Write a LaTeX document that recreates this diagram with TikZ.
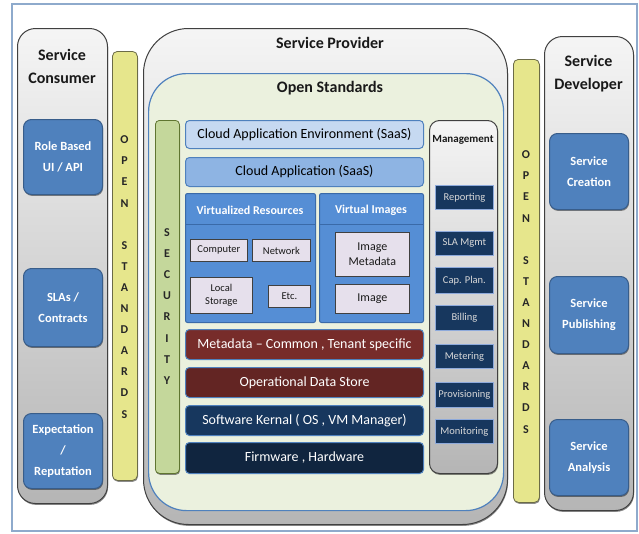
\documentclass[tikz,border=0pt]{standalone}
\usepackage{fontspec}
\setmainfont{Carlito}
\usetikzlibrary{shadows}
\definecolor{framec}{HTML}{8EAACC}
\definecolor{grayline}{HTML}{404040}
\definecolor{bluefill}{HTML}{4F81BD}
\definecolor{blueline}{HTML}{385D8A}
\definecolor{yfill}{HTML}{E6E68C}
\definecolor{yline}{HTML}{6B6B47}
\definecolor{secfill}{HTML}{C4D79B}
\definecolor{secline}{HTML}{5F7530}
\definecolor{osfill}{HTML}{EBF1DE}
\definecolor{caefill}{HTML}{C6D9F1}
\definecolor{cafill}{HTML}{8EB4E3}
\definecolor{vrfill}{HTML}{558ED5}
\definecolor{vrline}{HTML}{3A6AA8}
\definecolor{lavfill}{HTML}{E6E0EC}
\definecolor{mdfill}{HTML}{772C2A}
\definecolor{odsfill}{HTML}{632523}
\definecolor{skfill}{HTML}{17375E}
\definecolor{fwfill}{HTML}{10253F}
\definecolor{mitemline}{HTML}{8EAADB}
\newcommand\bx[7]{\node[#1, anchor=north west, inner sep=0pt, minimum width={#5pt-#3pt}, minimum height={#6pt-#4pt}] (#2) at (#3,#4) {#7};}
\tikzset{
  softshadow/.style={drop shadow={shadow xshift=0.6pt, shadow yshift=-1.4pt, opacity=0.45, fill=black}},
  graybox/.style={draw=grayline, line width=1pt, top color=gray!8, bottom color=gray!58, softshadow},
  bluebox/.style={draw=blueline, line width=1pt, fill=bluefill, rounded corners=8pt, text=white, align=center, font=\bfseries\fontsize{12.5}{21}\selectfont, softshadow},
  ybar/.style={draw=yline, line width=0.8pt, fill=yfill, rounded corners=5pt, softshadow},
  vlet/.style={align=center, text=black!85, inner sep=0pt, font=\bfseries\fontsize{12}{21.1}\selectfont},
  ttl/.style={align=center, text=black!90, inner sep=0pt, font=\bfseries\fontsize{16}{23}\selectfont},
  layer/.style={draw=bluefill, line width=1pt, rounded corners=4pt, font=\fontsize{14}{16}\selectfont},
  lav/.style={draw=black!75, line width=0.8pt, fill=lavfill, align=center, text=black!90, font=\fontsize{10.5}{13}\selectfont},
  mitem/.style={draw=mitemline, line width=0.8pt, fill=skfill, text=white!85!black, font=\fontsize{10.5}{12}\selectfont},
}
\begin{document}
\begin{tikzpicture}[x=1pt,y=-1pt]
\useasboundingbox (0,0) rectangle (639,533);
\fill[white] (0,0) rectangle (639,533);
\draw[framec, line width=1.5pt] (12,4) rectangle (637,531);

% Service consumer
\bx{graybox, rounded corners=18pt}{consumer}{17}{28}{107}{503}{}
\node[ttl] (consumerT) at (62,66) {Service\\Consumer};
\bx{bluebox}{roleb}{23}{119}{102}{194}{Role Based\\UI / API}
\bx{bluebox}{slas}{23}{268}{102}{346}{SLAs /\\Contracts}
\bx{bluebox}{expect}{23}{413}{102}{488}{Expectation\\/\\Reputation}

% left open standards
\bx{ybar}{osleft}{112}{51}{137}{480}{}
\node[vlet] (osleftT) at (124.5,277) {O\\P\\E\\N\\~\\S\\T\\A\\N\\D\\A\\R\\D\\S};

% Service provider
\bx{graybox, rounded corners=45pt}{provider}{143}{28}{507}{524}{}
\node[ttl] (providerT) at (330,43) {Service Provider};
\bx{draw=bluefill, line width=1.2pt, fill=osfill, rounded corners=38pt}{openstd}{148}{73}{503}{510}{}
\node[ttl] (openstdT) at (330,88) {Open Standards};

% security
\bx{draw=secline, line width=0.8pt, fill=secfill, rounded corners=4pt, softshadow}{security}{155}{120}{179}{473}{}
\node[vlet] (securityT) at (167,306.5) {S\\E\\C\\U\\R\\I\\T\\Y};

% layers
\bx{layer, fill=caefill}{cae}{185}{120}{423}{148}{Cloud Application Environment (SaaS)}
\bx{layer, fill=cafill}{ca}{185}{157}{423}{186}{Cloud Application (SaaS)}
\bx{draw=vrline, line width=1pt, fill=vrfill, rounded corners=2pt}{virtres}{185}{193}{315}{322}{}
\bx{draw=vrline, line width=1pt, fill=vrfill, rounded corners=2pt}{virtimg}{319}{193}{423}{322}{}
\draw[vrline, line width=1pt] (virtres.north west |- 0,224) -- (virtres.north east |- 0,224);
\draw[vrline, line width=1pt] (virtimg.north west |- 0,224) -- (virtimg.north east |- 0,224);
\node[text=white, font=\bfseries\fontsize{12}{14}\selectfont] (virtresT) at (250,210) {Virtualized Resources};
\node[text=white, font=\bfseries\fontsize{12}{14}\selectfont] (virtimgT) at (371,210) {Virtual Images};
\bx{lav}{computer}{190}{239}{247}{261}{Computer}
\bx{lav}{network}{252}{239}{310}{261}{Network}
\bx{lav}{localst}{190}{277}{252}{313}{Local\\Storage}
\bx{lav}{etc}{268}{285}{310}{307}{Etc.}
\bx{lav, font=\fontsize{12}{15}\selectfont}{imgmeta}{335}{232}{409}{276}{Image\\Metadata}
\bx{lav, font=\fontsize{12}{15}\selectfont}{image}{335}{284}{409}{313}{Image}

\bx{layer, fill=mdfill, text=white}{metadata}{185}{329}{423}{359}{Metadata -- Common , Tenant specific}
\bx{layer, fill=odsfill, text=white}{ods}{185}{367}{423}{397}{Operational Data Store}
\bx{layer, fill=skfill, text=white}{kernel}{185}{405}{423}{435}{Software Kernal ( OS , VM Manager)}
\bx{layer, fill=fwfill, text=white}{firmware}{185}{442}{423}{473}{Firmware , Hardware}

% management
\bx{graybox, rounded corners=10pt}{mgmt}{429}{120}{497}{473}{}
\node[inner sep=0pt, text=black!90, font=\bfseries\fontsize{11}{13}\selectfont] (mgmtT) at (463,140) {Management};
\bx{mitem}{reporting}{435}{185}{493}{209}{Reporting}
\bx{mitem}{slamgmt}{435}{231}{493}{255}{SLA Mgmt}
\bx{mitem}{capplan}{435}{267}{493}{293}{Cap. Plan.}
\bx{mitem}{billing}{435}{305}{493}{330}{Billing}
\bx{mitem}{metering}{435}{344}{493}{368}{Metering}
\bx{mitem}{provisioning}{435}{382}{493}{407}{Provisioning}
\bx{mitem}{monitoring}{435}{419}{493}{443}{Monitoring}

% right open standards
\bx{ybar}{osright}{513}{59}{539}{502}{}
\node[vlet] (osrightT) at (526,292) {O\\P\\E\\N\\~\\S\\T\\A\\N\\D\\A\\R\\D\\S};

% developer
\bx{graybox, rounded corners=18pt}{developer}{544}{36}{633}{510}{}
\node[ttl] (developerT) at (588.5,74) {Service\\Developer};
\bx{bluebox}{creation}{549}{133}{628}{209}{Service\\Creation}
\bx{bluebox}{publishing}{549}{276}{628}{353}{Service\\Publishing}
\bx{bluebox}{analysis}{549}{419}{628}{495}{Service\\Analysis}
\end{tikzpicture}
\end{document}
